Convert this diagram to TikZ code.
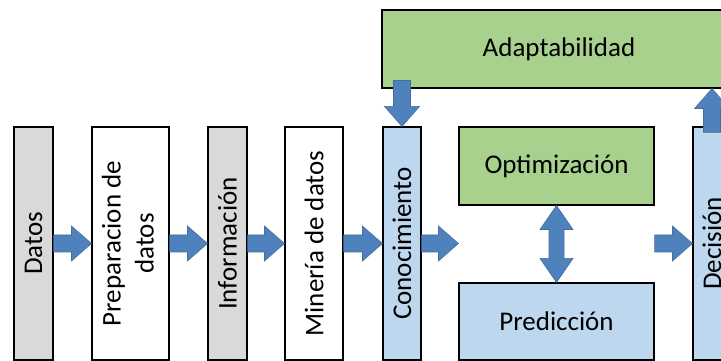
\documentclass[tikz,border=0pt]{standalone}
\usepackage{fontspec}
\setmainfont{Carlito}
\usetikzlibrary{calc}

\definecolor{boxgray}{HTML}{D9D9D9}
\definecolor{boxblue}{HTML}{BDD7EE}
\definecolor{boxgreen}{HTML}{A9D18E}
\definecolor{arrowblue}{HTML}{4F81BD}
\definecolor{arrowedge}{HTML}{41719C}

% block arrow from #1 to #2 (tip at #2)
\newcommand{\blockarrow}[2]{%
  \coordinate (ba-s) at (#1);
  \coordinate (ba-e) at (#2);
  \coordinate (ba-h) at ($(ba-e)!20pt!(ba-s)$);
  \filldraw[fatarrow] ($(ba-s)!8.5pt!90:(ba-e)$) -- ($(ba-h)!8.5pt!-90:(ba-s)$)
    -- ($(ba-h)!17.5pt!-90:(ba-s)$) -- (ba-e) -- ($(ba-h)!17.5pt!90:(ba-s)$)
    -- ($(ba-h)!8.5pt!90:(ba-s)$) -- ($(ba-s)!8.5pt!-90:(ba-e)$) -- cycle;
}
% block arrow with a head at both ends
\newcommand{\dblarrow}[2]{%
  \coordinate (da-a) at (#1);
  \coordinate (da-b) at (#2);
  \coordinate (da-ha) at ($(da-a)!24pt!(da-b)$);
  \coordinate (da-hb) at ($(da-b)!24pt!(da-a)$);
  \filldraw[fatarrow] (da-a) -- ($(da-ha)!16.5pt!90:(da-b)$) -- ($(da-ha)!7.5pt!90:(da-b)$)
    -- ($(da-hb)!7.5pt!-90:(da-a)$) -- ($(da-hb)!16.5pt!-90:(da-a)$) -- (da-b)
    -- ($(da-hb)!16.5pt!90:(da-a)$) -- ($(da-hb)!7.5pt!90:(da-a)$)
    -- ($(da-ha)!7.5pt!-90:(da-b)$) -- ($(da-ha)!16.5pt!-90:(da-b)$) -- cycle;
}

\begin{document}
\begin{tikzpicture}[x=1pt,y=1pt,
    fatarrow/.style={fill=arrowblue, draw=arrowedge, line width=0.6pt},
    stage/.style={draw, line width=1.1pt, minimum height=233pt, inner sep=0pt,
      font=\fontsize{27}{33}\selectfont},
    wide/.style={draw, line width=1.1pt, minimum height=78pt, inner sep=0pt,
      font=\fontsize{27}{33}\selectfont}]
\useasboundingbox (0,0) rectangle (721,361);
\clip (0,0) rectangle (721,361);

% Pipeline stages
\node[stage, fill=boxgray, minimum width=39pt] (datos) at (33.5,117.5) {\rotatebox{90}{Datos}};
\node[stage, fill=white, minimum width=77pt] (prep) at (130.5,117.5)
  {\rotatebox{90}{\begin{tabular}{@{}c@{}}Preparacion de\\datos\end{tabular}}};
\node[stage, fill=boxgray, minimum width=39pt] (info) at (227.5,117.5) {\rotatebox{90}{Información}};
\node[stage, fill=white, minimum width=58pt] (mineria) at (314,117.5) {\rotatebox{90}{Minería de datos}};
\node[stage, fill=boxblue, minimum width=38pt] (conoc) at (402,117.5) {\rotatebox{90}{Conocimiento}};
\node[stage, fill=boxblue, minimum width=38pt] (decision) at (712,117.5) {\rotatebox{90}{Decisión}};

% Middle and top blocks
\node[wide, fill=boxgreen, minimum width=195pt] (opt) at (556.5,195) {Optimización};
\node[wide, fill=boxblue, minimum width=195pt, minimum height=77pt] (pred) at (556.5,39.5) {Predicción};
\node[wide, fill=boxgreen, minimum width=354pt] (adapt) at (559,312) {Adaptabilidad};

% Arrows
\coordinate (split) at (conoc.east -| opt.west);
\coordinate (merge) at (opt.east |- decision.west);
\coordinate (down) at ($(adapt.south -| conoc.north)+(0,8)$);
\coordinate (up) at ($(decision.north)+(0,-6)$);
\blockarrow{datos.east}{prep.west}
\blockarrow{prep.east}{info.west}
\blockarrow{info.east}{mineria.west}
\blockarrow{mineria.east}{conoc.west}
\blockarrow{conoc.east}{split}
\blockarrow{merge}{decision.west}
\blockarrow{down}{conoc.north}
\blockarrow{up}{decision.north |- adapt.south}
\dblarrow{opt.south}{pred.north}

\end{tikzpicture}
\end{document}
